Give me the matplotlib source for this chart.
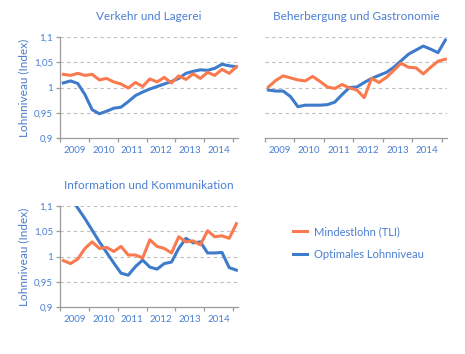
import matplotlib
matplotlib.use("Agg")
import matplotlib.pyplot as plt
import numpy as np

# Quarterly data, 25 points starting 2009
n_points = 25
x_start = 2009.115
quarters = x_start + np.arange(n_points) * 0.25

years = [2009, 2010, 2011, 2012, 2013, 2014]
year_labels = ["2009", "2010", "2011", "2012", "2013", "2014"]
ytick_vals = [0.9, 0.95, 1.0, 1.05, 1.1]
ytick_labels = ["0,9", "0,95", "1", "1,05", "1,1"]

titles = ["Verkehr und Lagerei", "Beherbergung und Gastronomie",
          "Information und Kommunikation"]
series_names = ["Mindestlohn (TLI)", "Optimales Lohnniveau"]

verkehr_tli = [1.026, 1.024, 1.028, 1.024, 1.026, 1.015, 1.018, 1.011, 1.007, 0.999,
               1.010, 1.002, 1.017, 1.011, 1.020, 1.009, 1.023, 1.016, 1.027, 1.018,
               1.030, 1.024, 1.036, 1.028, 1.041]
verkehr_opt = [1.009, 1.013, 1.008, 0.986, 0.956, 0.948, 0.953, 0.959, 0.961, 0.972,
               0.984, 0.991, 0.997, 1.002, 1.007, 1.012, 1.018, 1.028, 1.032, 1.035,
               1.034, 1.038, 1.046, 1.043, 1.041]

gastro_tli = [1.001, 1.014, 1.023, 1.019, 1.015, 1.013, 1.022, 1.012, 1.001, 0.998,
              1.006, 0.999, 0.995, 0.980, 1.018, 1.010, 1.020, 1.034, 1.048, 1.040,
              1.039, 1.027, 1.040, 1.052, 1.056]
gastro_opt = [0.995, 0.993, 0.993, 0.982, 0.962, 0.965, 0.965, 0.965, 0.966, 0.971,
              0.986, 1.000, 1.001, 1.010, 1.018, 1.024, 1.030, 1.040, 1.053, 1.066,
              1.074, 1.082, 1.076, 1.069, 1.094]

info_tli = [0.992, 0.986, 0.995, 1.016, 1.029, 1.016, 1.018, 1.010, 1.020, 1.003,
            1.003, 0.997, 1.033, 1.020, 1.016, 1.007, 1.039, 1.029, 1.031, 1.023,
            1.051, 1.039, 1.041, 1.036, 1.065]
info_opt = [1.140, 1.118, 1.096, 1.075, 1.052, 1.029, 1.008, 0.987, 0.967, 0.963,
            0.980, 0.993, 0.979, 0.975, 0.986, 0.989, 1.016, 1.036, 1.027, 1.029,
            1.007, 1.007, 1.008, 0.978, 0.973]

ORANGE = "#F97A4E"
BLUE = "#3E7BCB"
TEXT_BLUE = "#4B7FD3"
GRID = "#BDBDBD"
AXIS = "#9A9A9A"

plt.rcParams['font.family'] = ['Lato', 'DejaVu Sans']

fig = plt.figure(figsize=(4.65, 3.54), dpi=100)

W, H = 465.0, 354.0
def rect(l, r, t, b):
    return [l / W, 1 - b / H, (r - l) / W, (b - t) / H]

ax1 = fig.add_axes(rect(60, 238, 37, 138))
ax2 = fig.add_axes(rect(265, 447, 37, 138))
ax3 = fig.add_axes(rect(60, 238, 206, 307))

panels = [(ax1, verkehr_tli, verkehr_opt, True),
          (ax2, gastro_tli, gastro_opt, False),
          (ax3, info_tli, info_opt, True)]

lines = None
for (ax, tli, opt, show_y), title in zip(panels, titles):
    ax.set_xlim(2009, 2015.17)
    ax.set_ylim(0.9, 1.1)
    for yv in ytick_vals[1:]:
        ax.axhline(yv, color=GRID, lw=0.8, ls=(0, (3, 3)), zorder=0)
    l1, = ax.plot(quarters, tli, color=ORANGE, lw=2.2, solid_joinstyle='round', zorder=3)
    l2, = ax.plot(quarters, opt, color=BLUE, lw=2.2, solid_joinstyle='round', zorder=2)
    lines = (l1, l2)
    for s in ["top", "right"]:
        ax.spines[s].set_visible(False)
    ax.spines["bottom"].set_color(AXIS)
    ax.spines["bottom"].set_linewidth(0.9)
    ax.spines["left"].set_color(AXIS)
    ax.spines["left"].set_linewidth(0.9)
    ax.set_xticks(years + [2015])
    ax.set_xticklabels([])
    ax.set_xticks([y + 0.5 for y in years], minor=True)
    ax.set_xticklabels(year_labels, minor=True)
    ax.tick_params(axis='x', which='major', length=3, color=AXIS, width=0.9)
    ax.tick_params(axis='x', which='minor', length=0, labelsize=7, labelcolor=TEXT_BLUE, pad=6)
    if show_y:
        ax.set_yticks(ytick_vals)
        ax.set_yticklabels(ytick_labels)
        ax.tick_params(axis='y', length=3, color=AXIS, width=0.9, labelsize=7,
                       labelcolor=TEXT_BLUE, pad=2)
        ax.set_ylabel("Lohnniveau (Index)", color="#4A7BCB", fontsize=8.5, labelpad=3)
    else:
        ax.spines["left"].set_visible(False)
        ax.set_yticks([])
    ax.set_title(title, color=TEXT_BLUE, fontsize=8.5, pad=12)

fig.legend(lines, series_names, loc="upper left", bbox_to_anchor=(293 / W, 1 - 226 / H),
           frameon=False, fontsize=8, labelcolor=TEXT_BLUE, handlelength=1.3,
           handletextpad=0.6, labelspacing=1.1, borderpad=0, borderaxespad=0)

fig.savefig("out.png", dpi=100)
